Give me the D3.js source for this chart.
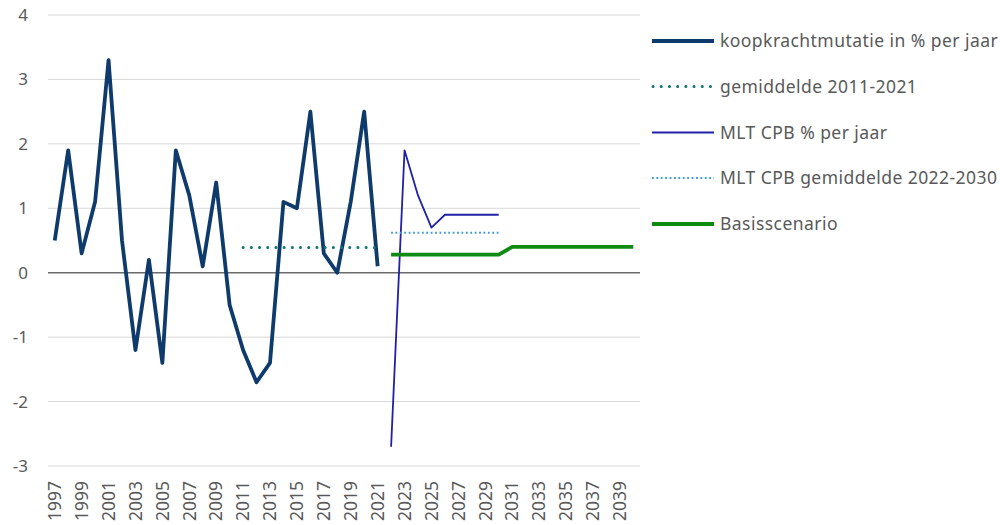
<!DOCTYPE html>
<html>
<head>
<meta charset="utf-8">
<script src="https://cdn.jsdelivr.net/npm/d3@7"></script>
<style>
  html, body { margin: 0; padding: 0; background: #fff; }
  svg { display: block; }
  text { font-family: "Noto Sans", "Open Sans", sans-serif; fill: #595959; }
</style>
</head>
<body>
<svg id="chart" width="1000" height="525"></svg>
<script>
// Years on the category axis
const years = d3.range(1997, 2041).map(String);

// Purchasing power change per year, 1997-2021
const koopkracht = [0.5, 1.9, 0.3, 1.1, 3.3, 0.5, -1.2, 0.2, -1.4, 1.9, 1.2, 0.1, 1.4, -0.5,
                    -1.2, -1.7, -1.4, 1.1, 1.0, 2.5, 0.3, 0.0, 1.1, 2.5, 0.1];
const koopkrachtStart = 1997;

// Average 2011-2021
const gemiddeldeYears = d3.range(2011, 2022);
const gemiddeldeValue = 0.39;

// CPB medium-term projection 2022-2030
const mltCpb = [-2.7, 1.9, 1.2, 0.7, 0.9, 0.9, 0.9, 0.9, 0.9];
const mltStart = 2022;

// CPB average 2022-2030
const mltGemYears = d3.range(2022, 2031);
const mltGemValue = 0.62;

// Base scenario 2022-2040
const basis = [0.28, 0.28, 0.28, 0.28, 0.28, 0.28, 0.28, 0.28, 0.28,
               0.4, 0.4, 0.4, 0.4, 0.4, 0.4, 0.4, 0.4, 0.4, 0.4];
const basisStart = 2022;

const yTicks = [-3, -2, -1, 0, 1, 2, 3, 4];

const legendLabels = [
  "koopkrachtmutatie in % per jaar",
  "gemiddelde 2011-2021",
  "MLT CPB % per jaar",
  "MLT CPB gemiddelde 2022-2030",
  "Basisscenario"
];

const svg = d3.select("#chart");
const plot = { left: 48, right: 640, top: 15, bottom: 466 };

const x = d3.scaleBand().domain(years).range([plot.left, plot.right]).padding(0);
const y = d3.scaleLinear().domain([-3, 4]).range([plot.bottom, plot.top]);
const cx = yr => x(String(yr)) + x.bandwidth() / 2;

// Horizontal gridlines
svg.append("g")
  .selectAll("line")
  .data(yTicks.filter(v => v !== 0))
  .join("line")
  .attr("x1", plot.left).attr("x2", plot.right)
  .attr("y1", d => y(d)).attr("y2", d => y(d))
  .attr("stroke", "#d9d9d9").attr("stroke-width", 1);

// Y axis labels (plain hyphen for negatives)
const yAxis = d3.axisLeft(y).tickValues(yTicks).tickSize(0).tickPadding(0).tickFormat(d => String(d));
const yg = svg.append("g").attr("transform", `translate(28,0)`).call(yAxis);
yg.select(".domain").remove();
yg.selectAll("text").attr("font-size", 17).attr("fill", "#595959")
  .style("font-family", '"Noto Sans", sans-serif');

// Zero line
svg.append("line")
  .attr("x1", plot.left).attr("x2", plot.right)
  .attr("y1", y(0)).attr("y2", y(0))
  .attr("stroke", "#6b6b6b").attr("stroke-width", 1.5);

// X axis labels: every other year, rotated
const xAxis = d3.axisBottom(x).tickValues(years.filter((d, i) => i % 2 === 0)).tickSize(0).tickPadding(0);
const xg = svg.append("g").attr("transform", `translate(0,${plot.bottom + 15})`).call(xAxis);
xg.select(".domain").remove();
xg.selectAll("text")
  .attr("font-size", 17.5).attr("fill", "#595959")
  .style("font-family", '"Noto Sans", sans-serif')
  .attr("transform", "rotate(-90)")
  .attr("text-anchor", "end")
  .attr("dy", "0.36em")
  .attr("x", 0).attr("y", 0);

const line = d3.line().x(d => cx(d.year)).y(d => y(d.value));

const series = [
  { data: koopkracht.map((v, i) => ({ year: koopkrachtStart + i, value: v })),
    color: "#0e3b6b", width: 3.8, dash: null, cap: "butt" },
  { data: gemiddeldeYears.map(yr => ({ year: yr, value: gemiddeldeValue })),
    color: "#12776f", width: 3, dash: "0.1 8.1", cap: "round" },
  { data: mltCpb.map((v, i) => ({ year: mltStart + i, value: v })),
    color: "#2020a8", width: 1.8, dash: null, cap: "butt" },
  { data: mltGemYears.map(yr => ({ year: yr, value: mltGemValue })),
    color: "#3d9ad8", width: 1.8, dash: "1.8 2.6", cap: "butt" },
  { data: basis.map((v, i) => ({ year: basisStart + i, value: v })),
    color: "#0f8a12", width: 3.8, dash: null, cap: "butt" }
];

const lines = svg.append("g");
series.forEach(s => {
  lines.append("path")
    .datum(s.data)
    .attr("d", line)
    .attr("fill", "none")
    .attr("stroke", s.color)
    .attr("stroke-width", s.width)
    .attr("stroke-linejoin", "round")
    .attr("stroke-linecap", s.cap)
    .attr("stroke-dasharray", s.dash);
});

// Legend
const legend = svg.append("g");
const rowY = [41, 86.5, 132.5, 178, 224];
series.forEach((s, i) => {
  const g = legend.append("g").attr("transform", `translate(0,${rowY[i]})`);
  g.append("line")
    .attr("x1", s.cap === "round" ? 653 : 652).attr("x2", 714)
    .attr("y1", 0).attr("y2", 0)
    .attr("stroke", s.color)
    .attr("stroke-width", s.width)
    .attr("stroke-linecap", s.cap)
    .attr("stroke-dasharray", s.dash);
  g.append("text")
    .attr("x", 720).attr("y", 0).attr("dy", "0.35em")
    .attr("font-size", 17.5)
    .attr("letter-spacing", 0.45)
    .text(legendLabels[i]);
});
</script>
</body>
</html>
